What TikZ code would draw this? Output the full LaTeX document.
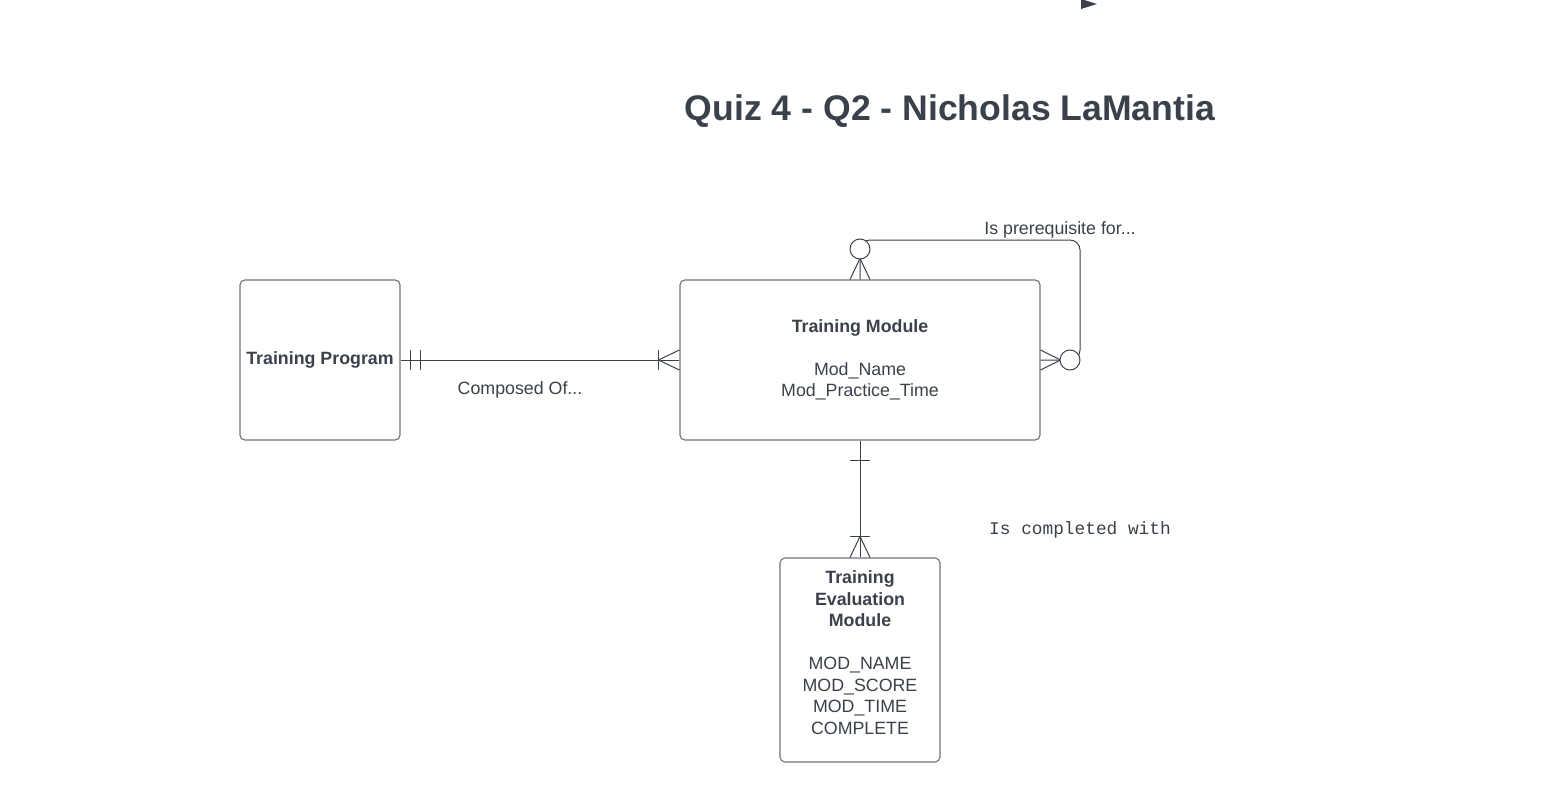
\documentclass[tikz,border=0pt]{standalone}
\usepackage{fontspec}
\setmainfont{Liberation Sans}
\setmonofont{Liberation Mono}
\definecolor{ink}{HTML}{3A414A}
\definecolor{edge}{HTML}{6E737B}

\tikzset{
  entity/.style={draw=edge, line width=1.1pt, rounded corners=5pt, minimum width=160pt,
    minimum height=160pt, inner sep=0pt, text=ink, align=center,
    font=\fontsize{17.8}{21.5}\selectfont},
  rel/.style={draw=ink, line width=1pt},
  optional/.style={draw=ink, line width=1pt, fill=white, circle, minimum size=20pt, inner sep=0pt},
  lbl/.style={text=ink, inner sep=0pt, font=\fontsize{17.8}{21.5}\selectfont},
}

\begin{document}
\begin{tikzpicture}[x=1pt,y=-1pt]
\useasboundingbox (0,0) rectangle (1558,797);

\fill[ink] (1081,-1) -- (1097,4) -- (1081,9) -- cycle;

\node[lbl, font=\bfseries\fontsize{35.6}{40}\selectfont] (title) at (950,111.5) {Quiz 4 - Q2 - Nicholas LaMantia};

% entites
\node[entity] (prog) at (320,360) {\textbf{Training Program}};
\node[entity, minimum width=360pt] (mod) at (860,360)
  {\textbf{Training Module}\\[21.5pt]Mod\_Name\\Mod\_Practice\_Time};
\node[entity, minimum height=204pt] (eval) at (860,660) {};
\node[lbl, align=center] (evaltxt) at (860,652.5)
  {\textbf{Training}\\\textbf{Evaluation}\\\textbf{Module}\\[21.5pt]MOD\_NAME\\MOD\_SCORE\\MOD\_TIME\\COMPLETE};

% Composed Of...
\draw[rel] (prog.east) -- (mod.west);
\draw[rel] ([xshift=10pt,yshift=10pt]prog.east) -- ([xshift=10pt,yshift=-10pt]prog.east);
\draw[rel] ([xshift=20pt,yshift=10pt]prog.east) -- ([xshift=20pt,yshift=-10pt]prog.east);
\draw[rel] ([xshift=-21pt,yshift=10pt]mod.west) -- ([xshift=-21pt,yshift=-10pt]mod.west);
\draw[rel] ([yshift=10pt]mod.west) -- ([xshift=-21pt]mod.west) -- ([yshift=-10pt]mod.west);
\node[lbl] (composed) at (520,390) {Composed Of...};

% Is prerequisite for...
\coordinate (loop) at (1080,240);
\draw[rel, rounded corners=10pt] (mod.north) |- (loop) |- (mod.east);
\draw[rel] ([xshift=-10pt]mod.north) -- ([yshift=21pt]mod.north) -- ([xshift=10pt]mod.north);
\draw[rel] ([yshift=10pt]mod.east) -- ([xshift=20pt]mod.east) -- ([yshift=-10pt]mod.east);
\node[optional] (opttop) at (860,249) {};
\node[optional] (optright) at (1070,360) {};
\node[lbl] (prereq) at (1060,230) {Is prerequisite for...};

% Is completed with
\draw[rel] (mod.south) -- (eval.north);
\draw[rel] ([xshift=-10pt,yshift=-20pt]mod.south) -- ([xshift=10pt,yshift=-20pt]mod.south);
\draw[rel] ([xshift=-10pt,yshift=21pt]eval.north) -- ([xshift=10pt,yshift=21pt]eval.north);
\draw[rel] ([xshift=-10pt]eval.north) -- ([yshift=21pt]eval.north) -- ([xshift=10pt]eval.north);
\node[lbl, font=\ttfamily\fontsize{17.8}{21.5}\selectfont] (completed) at (1080,529.5) {Is completed with};
\end{tikzpicture}
\end{document}
